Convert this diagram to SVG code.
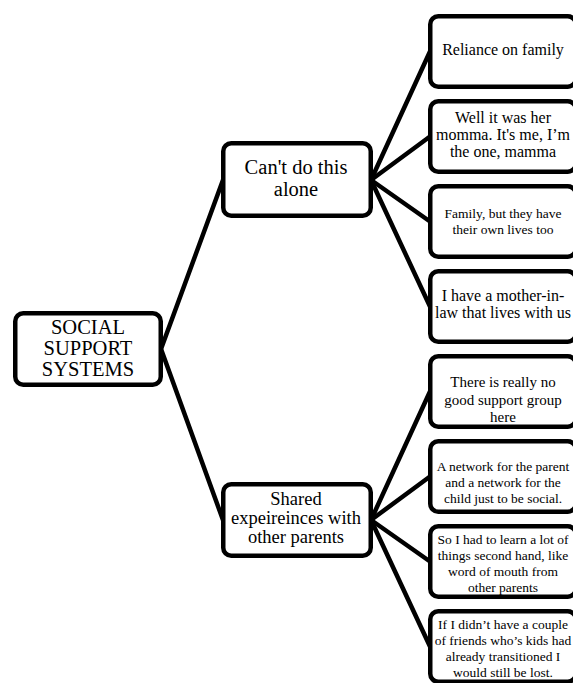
<svg xmlns="http://www.w3.org/2000/svg" width="573" height="683" viewBox="0 0 573 683">
<style>
.box{fill:#fff;stroke:#000;stroke-width:4.5}
.conn line{stroke:#000;stroke-width:4.5;stroke-linecap:round}
text{font-family:"Liberation Serif","Times New Roman",serif;fill:#000;text-anchor:middle}
.t21{font-size:20.5px}.t20{font-size:20.5px}.t19{font-size:18.5px}.t16{font-size:16px}.t15{font-size:15px}.t13{font-size:13.5px}
</style>
<rect width="573" height="683" fill="#fff"/>
<g id="connectors" class="conn">
<line x1="161" y1="349" x2="223" y2="180"/>
<line x1="161" y1="349" x2="223" y2="520"/>
<line x1="371" y1="180" x2="430" y2="51.5"/>
<line x1="371" y1="180" x2="430" y2="136.5"/>
<line x1="371" y1="180" x2="430" y2="221.5"/>
<line x1="371" y1="180" x2="430" y2="306.5"/>
<line x1="371" y1="520" x2="430" y2="391.5"/>
<line x1="371" y1="520" x2="430" y2="476.5"/>
<line x1="371" y1="520" x2="430" y2="561.5"/>
<line x1="371" y1="520" x2="430" y2="646.5"/>
</g>
<g id="root">
<rect class="box" x="15.25" y="313.25" width="145.5" height="71.5" rx="8"/>
<text class="t20" x="88" y="334">SOCIAL</text>
<text class="t20" x="88" y="355">SUPPORT</text>
<text class="t20" x="88" y="376">SYSTEMS</text>
</g>
<g id="cant-do-alone">
<rect class="box" x="223.25" y="143.25" width="147.5" height="72.5" rx="8"/>
<text class="t21" x="296" y="173.5">Can't do this</text>
<text class="t21" x="296" y="195.5">alone</text>
</g>
<g id="shared-experiences">
<rect class="box" x="223.25" y="484.25" width="147.5" height="71.5" rx="8"/>
<text class="t19" x="296" y="505">Shared</text>
<text class="t19" x="296" y="524">expeireinces with</text>
<text class="t19" x="296" y="543">other parents</text>
</g>
<g id="r1">
<rect class="box" x="430.25" y="16.25" width="145.5" height="70.5" rx="8"/>
<text class="t16" x="503" y="55">Reliance on family</text>
</g>
<g id="r2">
<rect class="box" x="430.25" y="101.25" width="145.5" height="70.5" rx="8"/>
<text class="t16" x="503" y="123">Well it was her</text>
<text class="t16" x="503" y="140">momma. It's me, I’m</text>
<text class="t16" x="503" y="157">the one, mamma</text>
</g>
<g id="r3">
<rect class="box" x="430.25" y="186.25" width="145.5" height="70.5" rx="8"/>
<text class="t13" x="503" y="218">Family, but they have</text>
<text class="t13" x="503" y="234">their own lives too</text>
</g>
<g id="r4">
<rect class="box" x="430.25" y="271.25" width="145.5" height="70.5" rx="8"/>
<text class="t16" x="503" y="301">I have a mother-in-</text>
<text class="t16" x="503" y="318">law that lives with us</text>
</g>
<g id="r5">
<rect class="box" x="430.25" y="356.25" width="145.5" height="70.5" rx="8"/>
<text class="t15" x="503" y="387">There is really no</text>
<text class="t15" x="503" y="405">good support group</text>
<text class="t15" x="503" y="422">here</text>
</g>
<g id="r6">
<rect class="box" x="430.25" y="441.25" width="145.5" height="70.5" rx="8"/>
<text class="t13" x="503" y="471">A network for the parent</text>
<text class="t13" x="503" y="487">and a network for the</text>
<text class="t13" x="503" y="503">child just to be social.</text>
</g>
<g id="r7">
<rect class="box" x="430.25" y="526.25" width="145.5" height="70.5" rx="8"/>
<text class="t13" x="503" y="544">So I had to learn a lot of</text>
<text class="t13" x="503" y="560">things second hand, like</text>
<text class="t13" x="503" y="576">word of mouth from</text>
<text class="t13" x="503" y="592">other parents</text>
</g>
<g id="r8">
<rect class="box" x="430.25" y="611.25" width="145.5" height="70.5" rx="8"/>
<text class="t13" x="503" y="629">If I didn’t have a couple</text>
<text class="t13" x="503" y="645">of friends who’s kids had</text>
<text class="t13" x="503" y="661">already transitioned I</text>
<text class="t13" x="503" y="677">would still be lost.</text>
</g>
</svg>
